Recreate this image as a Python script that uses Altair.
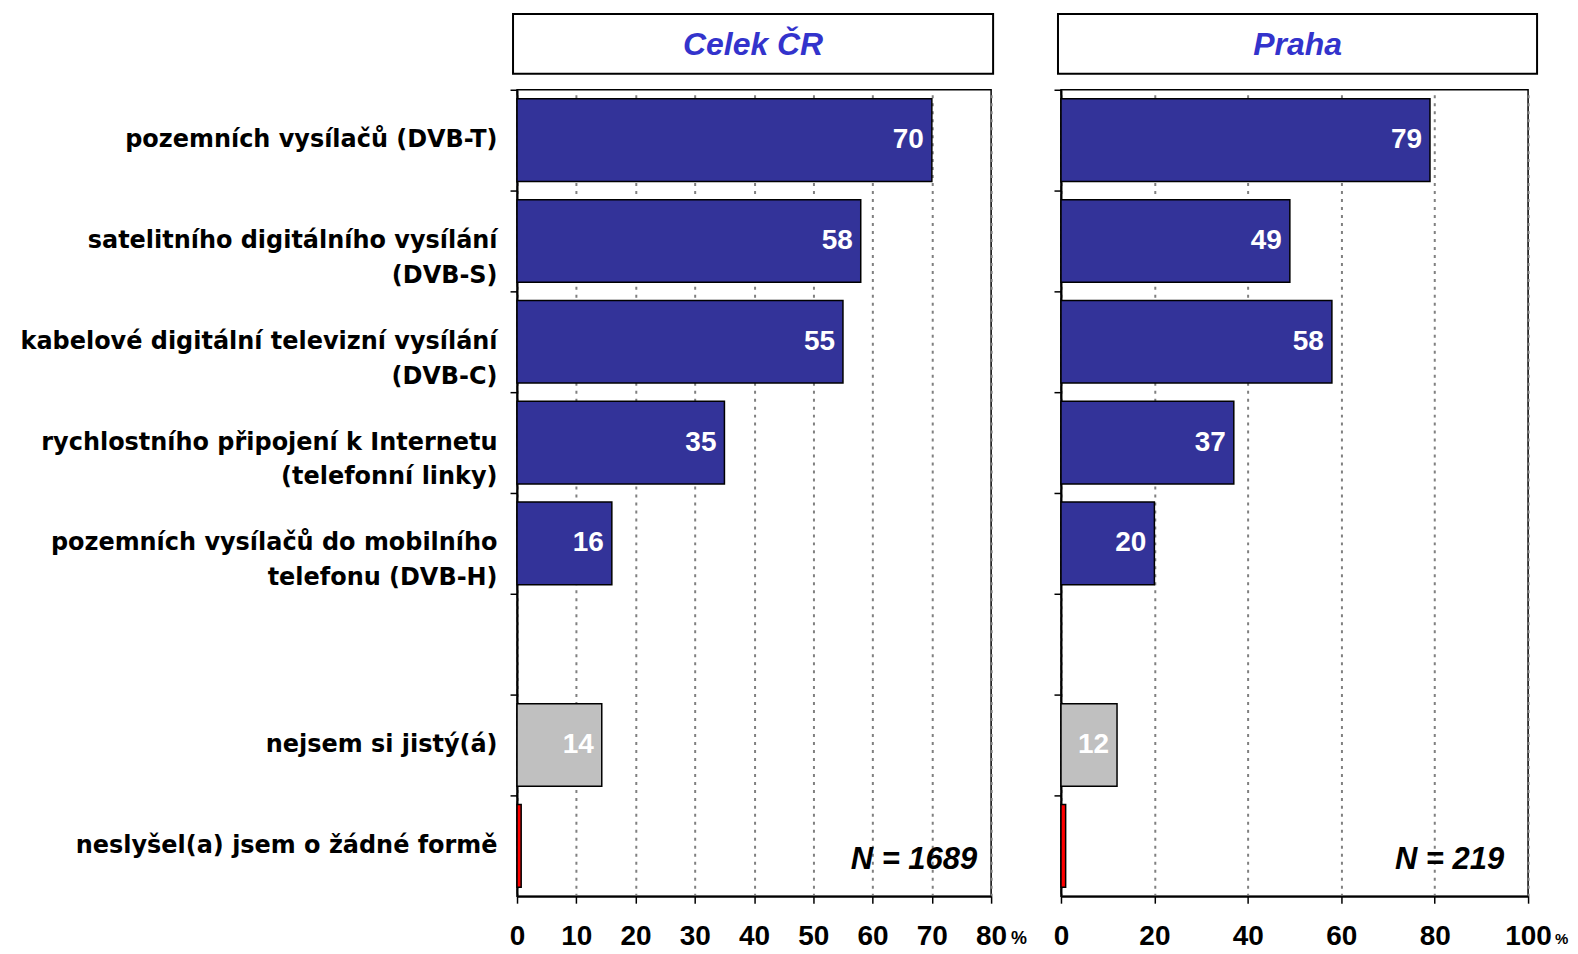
import altair as alt
import pandas as pd

# ---------------- data ----------------
categories = [
    "pozemních vysílačů (DVB-T)",
    "satelitního digitálního vysílání|(DVB-S)",
    "kabelové digitální televizní vysílání|(DVB-C)",
    "rychlostního připojení k Internetu|(telefonní linky)",
    "pozemních vysílačů do mobilního|telefonu (DVB-H)",
    " ",
    "nejsem si jistý(á)",
    "neslyšel(a) jsem o žádné formě",
]
kinds = ["main", "main", "main", "main", "main", "blank", "unsure", "never"]

cr_values = [70, 58, 55, 35, 16, None, 14.3, 0.7]
cr_labels = ["70", "58", "55", "35", "16", "", "14", ""]

praha_values = [79, 49, 58, 37, 20, None, 12, 1.0]
praha_labels = ["79", "49", "58", "37", "20", "", "12", ""]

cr_ticks = [0, 10, 20, 30, 40, 50, 60, 70, 80]
praha_ticks = [0, 20, 40, 60, 80, 100]

panel_titles = ["Celek ČR", "Praha"]
n_labels = ["N = 1689", "N = 219"]

kind_domain = ["main", "unsure", "never"]
kind_colors = ["#333399", "#C0C0C0", "#FF0000"]

LABEL_FONT = "Liberation Sans"


def panel(values, labels, ticks, title, n_text, width, show_labels,
          hdr_left, hdr_right, n_dx, pct_dx, pct_size):
    rows = [
        {"cat": c, "kind": k, "value": v, "label": l}
        for c, k, v, l in zip(categories, kinds, values, labels)
        if v is not None
    ]
    df = pd.DataFrame(rows)
    height = 808
    xmax = ticks[-1]

    y_enc = alt.Y(
        "cat:N",
        scale=alt.Scale(domain=categories, paddingInner=0, paddingOuter=0),
        axis=alt.Axis(
            title=None,
            labels=show_labels,
            labelExpr="split(datum.label, '|')",
            labelFont="DejaVu Sans",
            labelFontWeight="bold",
            labelFontSize=24,
            labelLineHeight=35,
            labelPadding=13,
            labelColor="black",
            bandPosition=0,
            ticks=True,
            tickSize=7,
            tickWidth=1.5,
            tickColor="black",
            domainColor="black",
            domainWidth=2,
            grid=False,
            labelLimit=0,
        ),
    )
    x_enc = alt.X(
        "value:Q",
        scale=alt.Scale(domain=[0, xmax], nice=False, zero=True),
        axis=alt.Axis(
            title=None,
            values=ticks,
            format="d",
            labelFont=LABEL_FONT,
            labelFontWeight="bold",
            labelFontSize=28,
            labelColor="black",
            labelFlush=False,
            labelOverlap=False,
            labelPadding=19,
            tickSize=7,
            tickWidth=1.5,
            tickColor="black",
            domainColor="black",
            domainWidth=2,
            grid=True,
            gridColor="#808080",
            gridDash=[3, 5],
            gridWidth=2,
        ),
    )

    base = alt.Chart(df)
    bars = base.mark_bar(
        height=alt.RelativeBandSize(0.82), stroke="black", strokeWidth=1.5
    ).encode(
        y=y_enc,
        x=x_enc,
        color=alt.Color(
            "kind:N",
            scale=alt.Scale(domain=kind_domain, range=kind_colors),
            legend=None,
        ),
    )
    texts = base.transform_filter("datum.label != ''").mark_text(
        align="right", baseline="middle", dx=-8, color="white",
        font=LABEL_FONT, fontWeight="bold", fontSize=28,
    ).encode(
        y=alt.Y("cat:N"),
        x=alt.X("value:Q"),
        text="label:N",
    )

    hdr_df = pd.DataFrame({"title": [title]})
    hdr_box = alt.Chart(hdr_df).mark_rect(
        fill="white", stroke="black", strokeWidth=2
    ).encode(
        x=alt.value(hdr_left), x2=alt.value(width + hdr_right),
        y=alt.value(-76), y2=alt.value(-16),
    )
    hdr_text = alt.Chart(hdr_df).mark_text(
        font=LABEL_FONT, fontWeight="bold", fontStyle="italic",
        fontSize=32, color="#3333CC", align="center", baseline="middle",
    ).encode(
        x=alt.value((hdr_left + width + hdr_right) / 2),
        y=alt.value(-45),
        text="title:N",
    )

    n_df = pd.DataFrame({"n": [n_text]})
    n_mark = alt.Chart(n_df).mark_text(
        font=LABEL_FONT, fontWeight="bold", fontStyle="italic",
        fontSize=31, color="black", align="right", baseline="alphabetic",
    ).encode(
        x=alt.value(width - n_dx),
        y=alt.value(height - 27),
        text="n:N",
    )

    pct_df = pd.DataFrame({"p": ["%"]})
    pct = alt.Chart(pct_df).mark_text(
        font=LABEL_FONT, fontWeight="bold", fontSize=pct_size, color="black",
        align="left", baseline="alphabetic", dx=pct_dx,
    ).encode(
        x=alt.X(datum=xmax),
        y=alt.value(height + 48),
        text="p:N",
    )

    return alt.layer(bars, texts, hdr_box, hdr_text, n_mark, pct).properties(
        width=width, height=height
    )


left = panel(cr_values, cr_labels, cr_ticks, panel_titles[0], n_labels[0],
             475, True, -4, 2, 14, 20, 18)
right = panel(praha_values, praha_labels, praha_ticks, panel_titles[1],
              n_labels[1], 468, False, -3, 9, 24, 27, 15)

chart = (
    alt.hconcat(left, right, spacing=70, bounds="flush")
    .configure(padding={"left": 10, "top": 3, "right": 0, "bottom": 0})
    .configure_view(stroke="black", strokeWidth=1.5)
    .configure_axis(domainColor="black", tickColor="black")
)

chart.save("out.html", embed_options={"renderer": "svg", "actions": False})
